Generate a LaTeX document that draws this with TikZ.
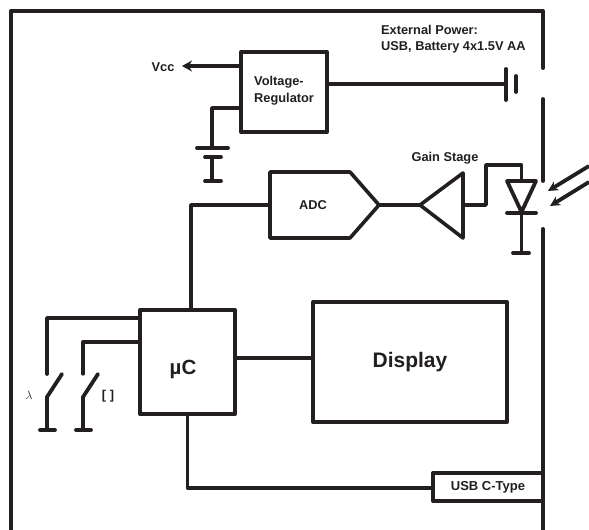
\documentclass[tikz,border=0pt]{standalone}
\usepackage{fontspec}
\setmainfont{Liberation Sans}
\usepackage{tikz}
\usetikzlibrary{arrows.meta,positioning}
\definecolor{cwLine}{HTML}{231F20}
\tikzset{
    every picture/.style={x=1pt,y=1pt,>=Stealth},
    wire/.style={draw=cwLine,line width=3.8pt,line join=round,line cap=round},
    thinwire/.style={draw=cwLine,line width=3.3pt,line join=round,line cap=round},
    block/.style={rectangle,draw=cwLine,line width=4pt,fill=white,inner sep=0pt,line join=round,font=\bfseries},
    lbl/.style={font=\bfseries\fontsize{12.8}{16.5}\selectfont,text=cwLine,inner sep=0pt},
    ray/.style={wire,-{Stealth[length=10pt,width=10pt]},line cap=butt}
}
\begin{document}
\begin{tikzpicture}
    \useasboundingbox (0,0) rectangle (589,530);
    \fill[white] (0,0) rectangle (589,530);

    % Blocks
    \node[block,minimum width=86pt,minimum height=80pt] (regulator) at (284,438) {};
    \node[lbl,align=left,anchor=west] (regtext) at (254,439.5) {Voltage-\\Regulator};
    \node[block,minimum width=95pt,minimum height=104pt] (uc) at (187.5,168) {};
    \node[font=\bfseries\fontsize{20.5}{24}\selectfont,text=cwLine,inner sep=0pt] (uctext) at (183,161) {µC};
    \node[block,minimum width=194pt,minimum height=120pt,font=\bfseries\fontsize{21}{24}\selectfont,text=cwLine] (display) at (410,168) {Display};
    \node[block,minimum width=110pt,minimum height=28pt,font=\bfseries\fontsize{13}{16}\selectfont,text=cwLine] (usb) at (488,43) {USB C-Type};

    % Housing with gaps for battery and light entry
    \coordinate (caseA) at (11,530);
    \coordinate (caseB) at (11,519);
    \coordinate (caseC) at (543,519);
    \coordinate (caseD) at (543,462);
    \coordinate (caseE) at (543,431);
    \coordinate (caseF) at (543,349);
    \coordinate (caseG) at (543,301);
    \coordinate (caseH) at (543,0);
    \draw[wire,line width=4pt,line cap=butt] (caseB) -- (11,0);
    \draw[wire,line width=4pt] (caseB) -- (caseC) -- (caseD);
    \draw[wire] (caseE) -- (caseF);
    \draw[wire,line width=4pt] (caseG) -- (caseH);

    % ADC and gain stage
    \draw[wire,line width=3.6pt] (270,358) -- (350,358) -- (379,325) -- (350,292) -- (270,292) -- cycle;
    \coordinate (adcin) at (270,325);
    \coordinate (adcout) at (379,325);
    \node[lbl] (adctext) at (313,325) {ADC};
    \draw[wire,line width=3.6pt] (420,325) -- (463,357) -- (463,292) -- cycle;
    \coordinate (gainin) at (420,325);
    \coordinate (gainout) at (463,325);
    \node[lbl] (gaintext) at (445,372) {Gain Stage};

    % Photodiode
    \draw[wire] (507,349) -- (536,349) -- (521.5,318) -- cycle;
    \draw[wire] (507,317) -- (536,317);
    \coordinate (pdtop) at (521.5,349);
    \coordinate (pdbot) at (521.5,317);
    \coordinate (pdgnd) at (521.5,277);
    \draw[wire] (513,277) -- (529,277);

    % Signal path
    \draw[wire] (191,220) -- (191,325) -- (adcin);
    \draw[wire] (adcout) -- (gainin);
    \draw[wire] (gainout) -- (486,325) -- (486,365) -- (521.5,365) -- (pdtop);
    \draw[wire] (pdbot) -- (pdgnd);
    \draw[wire] (uc.east |- 0,172) -- (display.west |- 0,172);
    \draw[thinwire] (uc.south) -- (187.5,42) -- (usb.west |- 0,42);

    % Light rays
    \coordinate (rayA) at (589,364);
    \coordinate (rayB) at (589,348);
    \draw[ray] (rayA) -- (548,339);
    \draw[ray] (rayB) -- (550,324);

    % Battery on external power
    \coordinate (batA) at (506,446);
    \draw[wire] (regulator.east |- batA) -- (batA);
    \draw[wire] (506,461) -- (506,430);
    \draw[wire] (516,454) -- (516,438);
    \node[lbl,align=left,anchor=west] (extpower) at (381,491) {External Power:\\USB, Battery 4x1.5V AA};

    % Vcc output
    \coordinate (vccend) at (182,464);
    \draw[wire,-{Stealth[length=10pt,width=11pt]},line cap=butt] (regulator.west |- 0,464) -- (vccend);
    \node[lbl] (vcc) at (163,463) {Vcc};

    % Regulator ground
    \draw[wire] (regulator.west |- 0,422) -- (212,422) -- (212,382);
    \draw[wire] (197,382) -- (228,382);
    \draw[wire] (205,373) -- (221,373);
    \draw[wire] (212,373) -- (212,349);
    \draw[wire] (205,349) -- (221,349);

    % Switches
    \coordinate (swA) at (47,156);
    \coordinate (swB) at (83,156);
    \draw[wire] (uc.west |- 0,212) -- (47,212) -- (swA);
    \draw[wire] (47,100) -- (47,133) -- (62,156);
    \draw[wire] (40,100) -- (55,100);
    \draw[thinwire] (uc.west |- 0,188) -- (83,188) -- (swB);
    \draw[wire] (83,100) -- (83,133) -- (98,156);
    \draw[wire] (76,100) -- (91,100);
    \node[font=\fontsize{13}{15}\selectfont,text=cwLine,inner sep=0pt] (lambda) at (29,135) {$\lambda$};
    \node[lbl] (aperture) at (108,134) {[ ]};
\end{tikzpicture}
\end{document}
